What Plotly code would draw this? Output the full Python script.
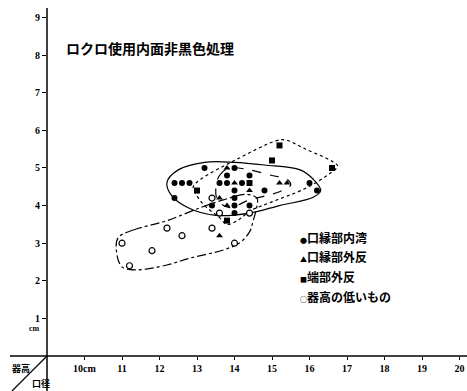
import plotly.graph_objects as go

# 口径 (cm) / 器高 (cm)
naiwan_x = [13.2, 14.0, 13.8, 14.4, 12.4, 12.6, 12.8, 13.6, 13.8, 14.2, 16.0,
            14.0, 14.8, 16.2, 12.4, 14.0, 13.4, 14.0, 14.4, 14.0]
naiwan_y = [5.0, 5.0, 4.8, 4.8, 4.6, 4.6, 4.6, 4.6, 4.6, 4.6, 4.6,
            4.4, 4.4, 4.4, 4.2, 4.2, 4.0, 4.0, 4.0, 3.8]

gaihan_x = [13.8, 14.0, 15.2, 15.4, 14.4, 13.6, 13.8, 13.6]
gaihan_y = [5.0, 4.6, 4.6, 4.6, 4.4, 4.2, 4.0, 3.2]

tanbu_x = [15.2, 15.0, 16.6, 14.4, 13.0, 13.8]
tanbu_y = [5.6, 5.2, 5.0, 4.6, 4.4, 3.6]

hikui_x = [13.4, 13.6, 14.4, 12.2, 13.4, 12.6, 11.0, 14.0, 11.8, 11.2]
hikui_y = [4.2, 3.8, 3.8, 3.4, 3.4, 3.2, 3.0, 3.0, 2.8, 2.4]

# group outlines
solid_x = [12.2, 12.5, 13.2, 14.0, 14.8, 15.75, 16.1, 16.3, 16.1, 15.2, 14.4, 13.5, 12.75, 12.3, 12.2]
solid_y = [4.62, 4.95, 5.15, 5.15, 5.08, 4.95, 4.7, 4.4, 4.22, 4.0, 3.8, 3.74, 3.95, 4.3, 4.62]

dash_x = [13.5, 13.6, 13.85, 14.4, 15.0, 15.4, 15.5, 15.2, 14.4, 13.85, 13.55, 13.5]
dash_y = [4.45, 4.8, 5.0, 4.95, 4.8, 4.7, 4.55, 4.37, 4.15, 3.95, 4.15, 4.45]

dot_x = [12.9, 13.1, 14.0, 15.1, 15.35, 15.9, 16.6, 16.75, 16.55, 15.9, 15.0, 14.4, 14.15, 13.8, 13.6, 13.15, 12.95, 12.9]
dot_y = [4.5, 4.7, 5.2, 5.72, 5.75, 5.5, 5.18, 5.05, 4.86, 4.46, 4.1, 3.85, 3.65, 3.5, 3.68, 4.05, 4.35, 4.5]

dashdot_x = [10.9, 11.3, 12.2, 13.1, 13.7, 14.3, 14.6, 14.6, 14.5, 14.4, 14.15, 13.7, 12.8, 12.2, 11.4, 11.0, 10.85, 10.9]
dashdot_y = [3.15, 3.35, 3.6, 3.95, 4.15, 4.3, 4.2, 4.0, 3.6, 3.3, 3.02, 2.82, 2.6, 2.42, 2.29, 2.37, 2.8, 3.15]

x_ticks = list(range(10, 21))
x_ticktext = ["10cm"] + [str(v) for v in range(11, 21)]
y_ticks = list(range(1, 10))

legend_labels = ["口縁部内湾", "口縁部外反", "端部外反", "器高の低いもの"]
legend_glyphs = ["●", "▲", "■", "○"]

fig = go.Figure()

for xs, ys, dash in [(solid_x, solid_y, "solid"), (dash_x, dash_y, "dash"),
                     (dot_x, dot_y, "dot"), (dashdot_x, dashdot_y, "dashdot")]:
    fig.add_trace(go.Scatter(x=xs, y=ys, mode="lines", showlegend=False,
                             line=dict(color="black", width=1.2, dash=dash, shape="spline", smoothing=1.0),
                             hoverinfo="skip"))

fig.add_trace(go.Scatter(x=naiwan_x, y=naiwan_y, mode="markers", name=legend_labels[0],
                         marker=dict(symbol="circle", size=6, color="black")))
fig.add_trace(go.Scatter(x=gaihan_x, y=gaihan_y, mode="markers", name=legend_labels[1],
                         marker=dict(symbol="triangle-up", size=6, color="black")))
fig.add_trace(go.Scatter(x=tanbu_x, y=tanbu_y, mode="markers", name=legend_labels[2],
                         marker=dict(symbol="square", size=6, color="black")))
fig.add_trace(go.Scatter(x=hikui_x, y=hikui_y, mode="markers", name=legend_labels[3],
                         marker=dict(symbol="circle", size=6, color="white",
                                     line=dict(color="black", width=1.2))))

tick_font = dict(family="Liberation Serif", size=10, color="black", weight="bold")

fig.update_layout(
    width=467, height=391,
    margin=dict(l=47, r=0, t=8, b=35),
    paper_bgcolor="white", plot_bgcolor="white",
    showlegend=False,
    font=dict(family="Noto Sans CJK JP", color="black"),
    xaxis=dict(range=[9, 20.2], tickvals=x_ticks, ticktext=x_ticktext,
               ticks="outside", ticklen=3, tickcolor="black", showgrid=False,
               zeroline=False, showline=False, tickfont=tick_font),
    yaxis=dict(range=[0, 9.255], tickvals=y_ticks, ticks="outside", ticklen=4,
               tickcolor="black", showgrid=False, zeroline=False, showline=False,
               tickfont=tick_font),
)

# axes lines extending past the plot area
x_left = (10 - 47) / 420
y_low = (356 - 391) / 348
fig.add_shape(type="line", xref="paper", yref="paper", x0=x_left, x1=1, y0=0, y1=0,
              line=dict(color="black", width=1.5))
fig.add_shape(type="line", xref="paper", yref="paper", x0=0, x1=0, y0=y_low, y1=1,
              line=dict(color="black", width=1.5))
fig.add_shape(type="line", xref="paper", yref="paper", x0=0, x1=(12 - 47) / 420, y0=0, y1=y_low,
              line=dict(color="black", width=1.2))

fig.add_annotation(text="cm", xref="paper", yref="y", x=-0.012, y=0.74, xanchor="right",
                   showarrow=False, font=dict(family="Liberation Serif", size=8, color="black", weight="bold"))
fig.add_annotation(text="器高", xref="paper", yref="paper", x=(10 - 47) / 420, y=-0.012,
                   xanchor="left", yanchor="top", showarrow=False,
                   font=dict(size=9, color="black", weight="bold"))
fig.add_annotation(text="口径", xref="paper", yref="paper", x=(30 - 47) / 420, y=-0.054,
                   xanchor="left", yanchor="top", showarrow=False,
                   font=dict(size=9, color="black", weight="bold"))

fig.add_annotation(text="ロクロ使用内面非黒色処理", xref="paper", yref="paper",
                   x=(64 - 47) / 420, y=(356 - 48) / 348, xanchor="left", yanchor="middle",
                   showarrow=False, font=dict(size=14, color="black", weight="bold"))

for i, (g, lab) in enumerate(zip(legend_glyphs, legend_labels)):
    py = 237 + i * 19.7
    fig.add_annotation(text=f"<span style='font-size:7px'>{g}</span>{lab}", xref="paper", yref="paper",
                       x=(298 - 47) / 420, y=(356 - py) / 348, xanchor="left", yanchor="middle",
                       showarrow=False, font=dict(size=12, color="black", weight="bold"))

# drop the default page margin so the figure fills the window exactly
fig.write_html("out.html", config={"displayModeBar": False},
               post_script="document.body.style.margin='0';")
